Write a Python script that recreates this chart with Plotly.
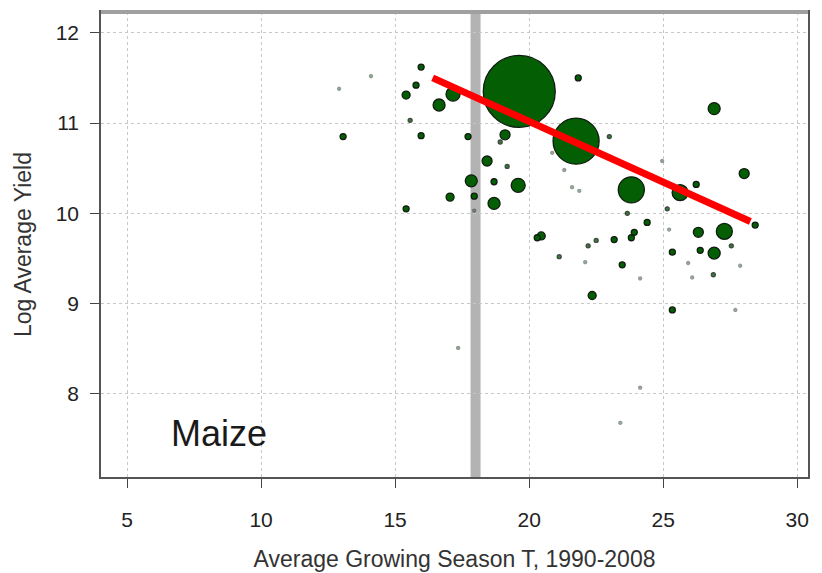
import plotly.graph_objects as go

# Average growing season temperature (deg C), 1990-2008
temp = [19.63, 21.75, 23.81, 25.63, 26.90, 28.02, 26.31, 27.28, 26.90, 28.43,
        17.16, 16.64, 15.41, 15.78, 15.97, 14.10, 12.91, 15.56, 13.06, 15.97,
        17.72, 19.10, 18.92, 18.43, 19.18, 17.84, 18.69, 19.59, 17.05, 17.95,
        18.69, 15.41, 17.95, 21.83, 22.99, 20.86, 21.31, 21.60, 21.87, 24.96,
        26.23, 23.66, 25.15, 24.40, 20.45, 20.30, 23.92, 23.81, 23.17, 22.50,
        22.20, 21.12, 22.09, 23.47, 25.22, 25.34, 26.38, 27.54, 25.93, 26.87,
        26.08, 24.14, 27.87, 22.35, 25.34, 27.69, 17.35, 24.14, 23.40]

# Log average yield
log_yield = [11.35, 10.80, 10.26, 10.23, 11.16, 10.44, 9.79, 9.80, 9.56, 9.87,
             11.32, 11.20, 11.31, 11.42, 11.62, 11.52, 11.38, 11.03, 10.85, 10.86,
             10.85, 10.87, 10.79, 10.58, 10.52, 10.36, 10.35, 10.31, 10.18, 10.19,
             10.11, 10.05, 10.03, 11.50, 10.85, 10.67, 10.48, 10.29, 10.25, 10.58,
             10.32, 10.00, 10.05, 9.90, 9.75, 9.73, 9.79, 9.73, 9.71, 9.70,
             9.64, 9.52, 9.46, 9.43, 9.82, 9.57, 9.59, 9.64, 9.45, 9.32,
             9.29, 9.28, 9.42, 9.09, 8.93, 8.93, 8.51, 8.07, 7.68]

# Production weight (bubble area)
production = [259, 106, 34, 12.8, 7.2, 5, 5, 12.8, 7.2, 1.8,
              9.8, 7.2, 3.2, 1.8, 1.8, 0.45, 0.45, 0.8, 1.8, 1.8,
              1.8, 5, 0.8, 5, 0.8, 7.2, 1.8, 9.8, 3.2, 1.8,
              7.2, 1.8, 0.45, 1.8, 0.8, 0.45, 0.45, 0.45, 0.45, 0.45,
              1.8, 0.8, 0.8, 1.8, 3.2, 1.8, 1.8, 1.8, 1.8, 0.8,
              0.8, 0.8, 0.45, 1.8, 0.45, 1.8, 1.8, 0.8, 0.45, 0.8,
              0.45, 0.45, 0.45, 3.2, 1.8, 0.45, 0.45, 0.45, 0.45]

# Fitted line endpoints
fit_x = [16.4, 28.25]
fit_y = [11.50, 9.91]

x_ticks = [5, 10, 15, 20, 25, 30]
y_ticks = [8, 9, 10, 11, 12]
threshold_t = 18.0
crop_label = "Maize"

# very small producers appear faint
marker_opacity = [0.45 if p < 0.5 else (0.8 if p < 1 else 1.0) for p in production]

fig = go.Figure()

fig.add_trace(go.Scatter(
    x=temp, y=log_yield, mode="markers",
    marker=dict(size=production, sizemode="area", sizeref=0.1,
                color="#045f04", line=dict(color="#101c10", width=1.3),
                opacity=marker_opacity),
    showlegend=False, hoverinfo="x+y",
))

fig.add_trace(go.Scatter(
    x=fit_x, y=fit_y, mode="lines",
    line=dict(color="#ff0000", width=7),
    showlegend=False,
))

fig.add_shape(type="line", xref="x", yref="paper", x0=threshold_t, x1=threshold_t,
              y0=0, y1=1, line=dict(color="#b3b3b3", width=10), layer="below")
fig.add_shape(type="line", xref="paper", yref="paper", x0=0, x1=1, y0=1, y1=1,
              line=dict(color="#a0a0a0", width=4), layer="above")

fig.add_annotation(x=8.43, y=7.56, text=crop_label, showarrow=False,
                   font=dict(family="Liberation Sans, Arial", size=36, color="#1a1a1a"),
                   xanchor="center", yanchor="middle")

axis_common = dict(
    showline=True, linecolor="#555555", linewidth=1.5, mirror=True,
    ticks="outside", ticklen=9, tickcolor="#444444", tickwidth=1.2,
    showgrid=True, gridcolor="#c8c8c8", gridwidth=1, griddash="dot",
    zeroline=False, automargin=False,
    tickfont=dict(family="Liberation Sans, Arial", size=21, color="#222222"),
    title_font=dict(family="Liberation Sans, Arial", size=23, color="#333333"),
)

fig.update_xaxes(range=[4.03, 30.4], tickvals=x_ticks,
                 title_text="Average Growing Season T, 1990-2008",
                 ticklabelstandoff=14, title_standoff=21, **axis_common)
fig.update_yaxes(range=[7.08, 12.23], tickvals=y_ticks,
                 title_text="Log Average Yield",
                 ticklabelstandoff=7, title_standoff=18, **axis_common)

fig.update_layout(
    width=822, height=573,
    margin=dict(l=101, r=14, t=12, b=96),
    plot_bgcolor="white", paper_bgcolor="white",
)

fig.write_html("out.html")
